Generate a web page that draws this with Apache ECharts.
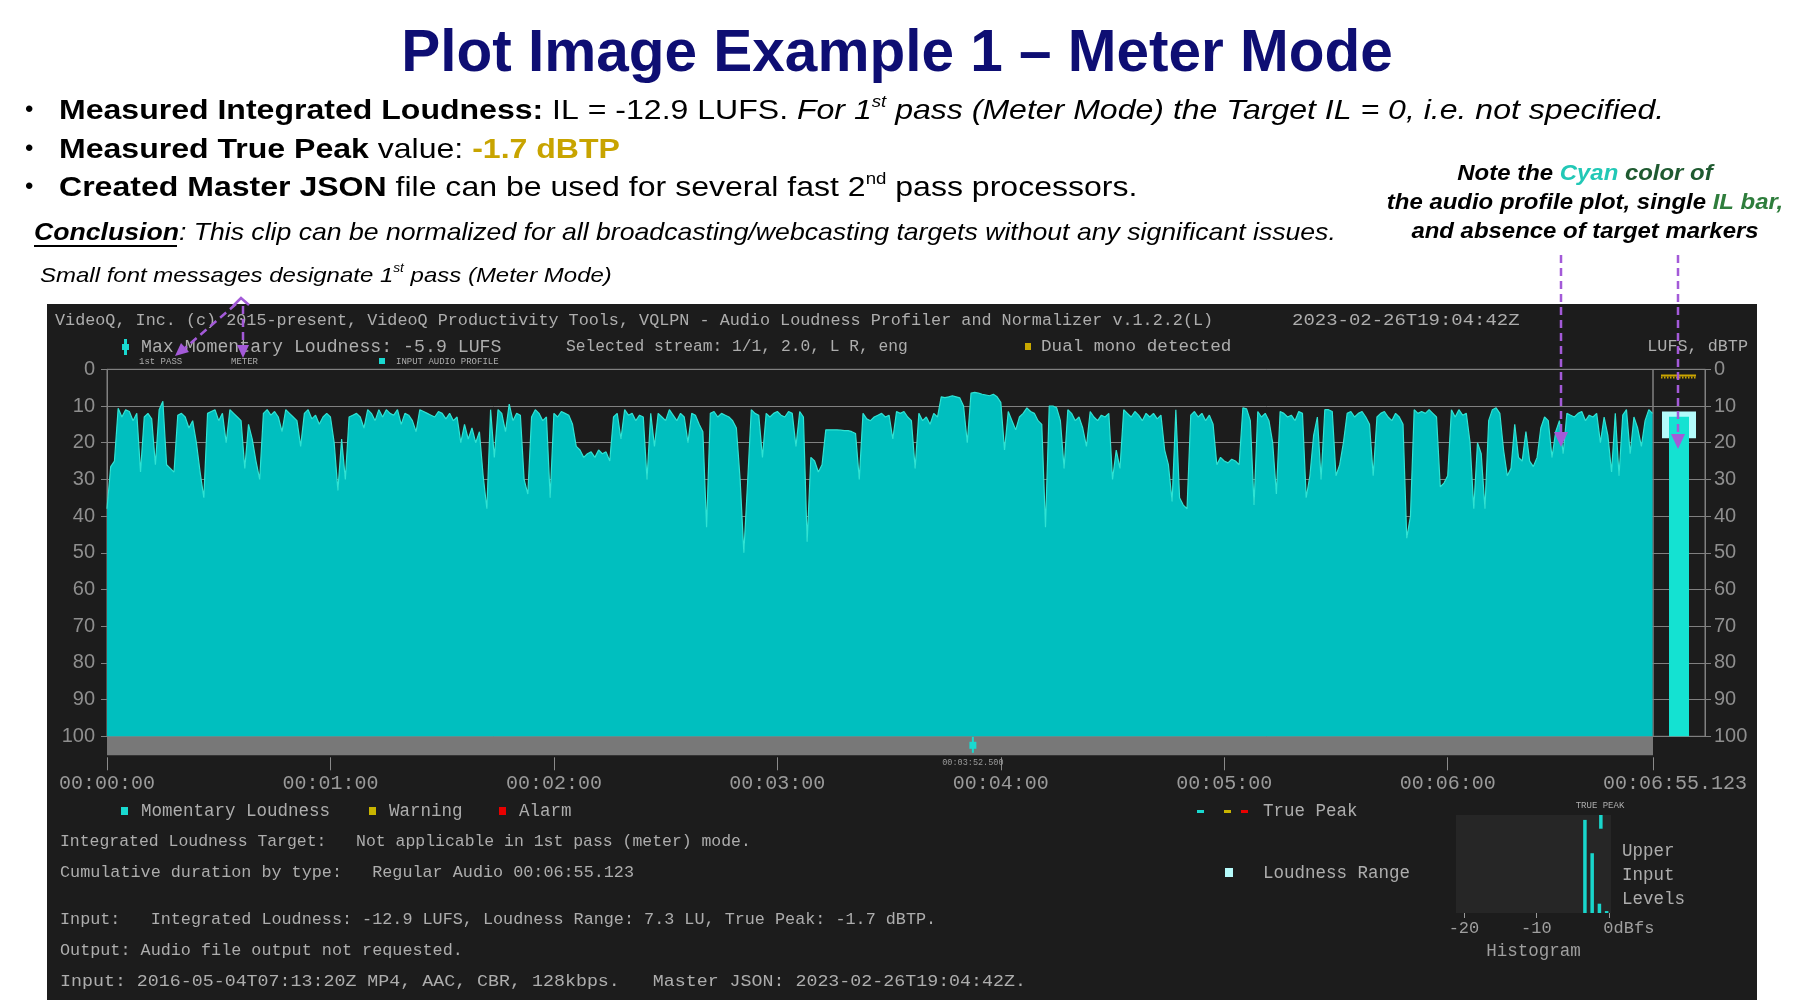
<!DOCTYPE html>
<html><head><meta charset="utf-8">
<script src="https://cdn.jsdelivr.net/npm/echarts@6/dist/echarts.min.js"></script>
<style>html,body{margin:0;padding:0;background:#fff}#c{width:1800px;height:1000px}</style>
</head><body><div id="c"></div>
<script>
// ---------------- DATA ----------------
const DURATION = 415.123;          // seconds
const STEP = 1;                    // seconds between momentary loudness samples
// momentary loudness, magnitude of LUFS (10 => -10 LUFS), one value per second
const loudness = [
 38,26.5,25,10.6,13,11,11.5,14,12,28,
 13,12,13.5,26,11,8.7,26,27,28,12.5,
 12,13,16,14,20,28,35,12,11.5,11,
 14,12,20,11,12,13,14,27,15,19,
 25,30,12,11,12.5,11.5,13,17,11,12,
 13,14,21,12,11,13.5,12.5,15,13,12,
 13,20,33,19,30,13,12.5,12,13,16,
 11,12,14,11,13,11,12,12.5,11,15,
 12,12.5,14,17,11,11.5,12,12.5,13,11.5,
 12,13.5,12,14,13,20,15,19,16,20,
 17,29,38,11,24,11,12,17,9.5,14,
 12,12.5,30,34,13,11,12,14,13,35,
 12,13,11.5,12,12.5,15,21,22,24,23,
 22.5,24,22,23,22.5,25,13,12,19,11,
 12.5,12,14,12.5,13,30,12,21,12,13,
 14,11,12.5,14,12,13,20,12,12.5,15,
 17,43,12,11.5,13,12,12.5,13,14,16,
 30,50,31,11,12,12.5,24,12,13,12,
 11.5,12.5,13,11.5,12,21,11.5,13,47,24,
 25,28,26,16.5,16.5,16.5,16.5,16.6,16.7,16.7,
 17,17.5,30,12,13.5,14,13,12.5,12,13,
 12.5,19,11.5,12,11.5,13,14,27,12,14,
 13,15,12,13,7.5,7.7,7.5,7.2,7.5,7.8,
 10,20,6.5,6.3,6.5,6.8,7,7.2,6.8,7.5,
 9,22,11.5,14,16.5,13,12,10.5,11.5,12,
 14,15,43,10,10,10.5,14,27,11,12,
 14,13,16,21,11.5,13,14,12.5,13,12,
 30,22,27,11,12,13,11.5,12.5,14,12,
 13,12,13.5,12.5,22,26,36,11,35,37,
 38,12.5,11.5,13,12,14,12.5,15,26,24,
 25,25.5,24.5,25,26,10.5,10.8,14,37,11.5,
 13,12,14,20,34,11.5,12,13,12.5,14,
 11.5,12,35,29,18,13,30,11,11,11.5,
 29,26,20,12,11.5,13,12,11.5,13,15,
 29,13,12,11.5,13,14,12,13,15,46,
 40,11,12,11.5,12,11,12,13,32,31,
 29,11,13,11,12.5,12,20,38,20,23,
 38,14,11,10.5,12,22,29,27,15,24,
 25,17,25,26.5,24,16,13,14,24,17,
 14,23,12,12.5,13,12,11.5,14,12.5,13,
 12,20,13,18,28,12,29,12.5,11,23,
 13,16,21,14,11,12
];
const yTicks = [0,10,20,30,40,50,60,70,80,90,100];
const TIME_TICK = 60;                 // one label per minute
const integratedLoudness = 12.9;      // -12.9 LUFS
const lraLow = 11.5, lraHigh = 18.8;  // loudness range 7.3 LU
const truePeak = 1.7;                 // -1.7 dBTP
const maxMomentTime = 232.5;          // 00:03:52.500
const histBins = [-3.3, -2.3, -1.3, -0.3];   // dBFS
const histCounts = [95, 61, 9.5, 2];         // % of histogram height
const histTicks = [-20, -10, 0];
const histTruePeak = -1.1;
const histTruePeakSpan = [86, 100];

// ---------------- HELPERS ----------------
const pad = n => String(n).padStart(2,'0');
function fmtTime(v){
  const ms = Math.round(v*1000);
  const h = Math.floor(ms/3600000), m = Math.floor(ms/60000)%60, s = Math.floor(ms/1000)%60, f = ms%1000;
  let str = pad(h)+':'+pad(m)+':'+pad(s);
  if (f) str += '.'+String(f).padStart(3,'0');
  return str;
}
const MONO = 'Liberation Mono';
const SANS = 'Liberation Sans';
const PTXT = '#adadad';
const GRID_C = '#808080';

function txt(x, y, text, opt){
  opt = opt || {};
  return {type:'text', x:x, y:y, scaleX: opt.sx || 1, z: opt.z || 50, silent:true,
    style: Object.assign({text:text, fill: opt.fill || PTXT,
      font: opt.font || ('16.8px '+MONO), align: opt.align || 'left', verticalAlign:'middle',
      textAlign: opt.align || 'left', textVerticalAlign:'middle'}, opt.style || {})};
}
function rect(x,y,w,h,fill,z){ return {type:'rect', z: z||50, silent:true, shape:{x:x,y:y,width:w,height:h}, style:{fill:fill}}; }
const PURPLE = '#a35ad8';
function dline(x1,y1,x2,y2){ return {type:'line', z:200, silent:true, shape:{x1:x1,y1:y1,x2:x2,y2:y2}, style:{stroke:PURPLE, lineWidth:2.5, lineDash:[8,5]}}; }
function head(pts){ return {type:'polygon', z:200, silent:true, shape:{points:pts}, style:{fill:PURPLE}}; }

// ---------------- GRAPHICS (text / annotations) ----------------
const g = [];
g.push(rect(47, 304, 1710, 696, '#1c1c1c', -10));
// title
g.push(txt(897, 54.5, 'Plot Image Example 1 – Meter Mode', {fill:'#0e0e73', align:'center', font:'bold 58.5px '+SANS}));
// bullets
const BF = 27.5, BSX = 1.165;
const rich = {
  b:{fontFamily:SANS, fontWeight:'bold', fontSize:BF, fill:'#000', lineHeight:34, verticalAlign:'bottom'},
  r:{fontFamily:SANS, fontSize:BF, fill:'#000', lineHeight:34, verticalAlign:'bottom'},
  i:{fontFamily:SANS, fontStyle:'italic', fontSize:BF, fill:'#000', lineHeight:34, verticalAlign:'bottom'},
  gold:{fontFamily:SANS, fontWeight:'bold', fontSize:BF, fill:'#c8a400', lineHeight:34, verticalAlign:'bottom'},
  sup:{fontFamily:SANS, fontSize:16, fill:'#000', lineHeight:34, verticalAlign:'top', padding:[4,0,0,0]},
  isup:{fontFamily:SANS, fontStyle:'italic', fontSize:16, fill:'#000', lineHeight:34, verticalAlign:'top', padding:[4,0,0,0]}
};
[108,147,185].forEach(y => g.push(txt(25, y+2, '•', {fill:'#000', font:'24px '+SANS})));
g.push(txt(59, 108, '', {sx:BSX, style:{rich:rich, text:'{b|Measured Integrated Loudness:}{r| IL = -12.9 LUFS. }{i|For 1}{isup|st}{i| pass (Meter Mode) the Target IL = 0, i.e. not specified.}'}}));
g.push(txt(59, 147, '', {sx:BSX, style:{rich:rich, text:'{b|Measured True Peak}{r| value: }{gold|-1.7 dBTP}'}}));
g.push(txt(59, 185, '', {sx:BSX, style:{rich:rich, text:'{b|Created Master JSON}{r| file can be used for several fast 2}{sup|nd}{r| pass processors.}'}}));
// conclusion
g.push(txt(34, 233, '', {sx:1.109, style:{rich:{
  c:{fontFamily:SANS, fontWeight:'bold', fontStyle:'italic', fontSize:24, fill:'#000'},
  t:{fontFamily:SANS, fontStyle:'italic', fontSize:24, fill:'#000'}},
  text:'{c|Conclusion}{t|: This clip can be normalized for all broadcasting/webcasting targets without any significant issues.}'}}));
g.push({type:'line', z:50, silent:true, shape:{x1:34,y1:246,x2:177,y2:246}, style:{stroke:'#000', lineWidth:2}});
g.push(txt(40, 274, '', {sx:1.142, style:{rich:{
  t:{fontFamily:SANS, fontStyle:'italic', fontSize:21, fill:'#000', lineHeight:26, verticalAlign:'bottom'},
  s:{fontFamily:SANS, fontStyle:'italic', fontSize:12, fill:'#000', lineHeight:26, verticalAlign:'top', padding:[2,0,0,0]}},
  text:'{t|Small font messages designate 1}{s|st}{t| pass (Meter Mode)}'}}));
// note (right)
const nr = {
  k:{fontFamily:SANS, fontWeight:'bold', fontStyle:'italic', fontSize:22, fill:'#000'},
  c:{fontFamily:SANS, fontWeight:'bold', fontStyle:'italic', fontSize:22, fill:'#22c8b6'},
  gr:{fontFamily:SANS, fontWeight:'bold', fontStyle:'italic', fontSize:22, fill:'#1f5a30'},
  gl:{fontFamily:SANS, fontWeight:'bold', fontStyle:'italic', fontSize:22, fill:'#2e7d3c'}
};
g.push(txt(1585, 174, '', {align:'center', sx:1.088, style:{rich:nr, text:'{k|Note the }{c|Cyan}{gr| color of}'}}));
g.push(txt(1585, 203, '', {align:'center', sx:1.088, style:{rich:nr, text:'{k|the audio profile plot, single }{gl|IL bar,}'}}));
g.push(txt(1585, 232, '', {align:'center', sx:1.088, style:{rich:nr, text:'{k|and absence of target markers}'}}));

// panel header texts
g.push(txt(55, 321, 'VideoQ, Inc. (c) 2015-present, VideoQ Productivity Tools, VQLPN - Audio Loudness Profiler and Normalizer v.1.2.2(L)'));
g.push(txt(1292, 321, '2023-02-26T19:04:42Z', {sx:1.13}));
g.push(rect(124, 339, 3, 16, '#19d9d0'));
g.push(rect(122, 344, 7, 6, '#19d9d0'));
g.push(txt(141, 347, 'Max Momentary Loudness: -5.9 LUFS', {font:'17.5px '+MONO, sx:1.04}));
g.push(txt(566, 347, 'Selected stream: 1/1, 2.0, L R, eng', {sx:0.97}));
g.push(rect(1025, 343, 6, 7, '#c8a800'));
g.push(txt(1041, 347, 'Dual mono detected', {sx:1.05}));
g.push(txt(1748, 347, 'LUFS, dBTP', {align:'right'}));
g.push(txt(139, 362, '1st PASS', {font:'9px '+MONO}));
g.push(txt(231, 362, 'METER', {font:'9px '+MONO}));
g.push(rect(379, 358, 6, 6, '#19d9d0'));
g.push(txt(396, 362, 'INPUT AUDIO PROFILE', {font:'9px '+MONO}));

// legend row
g.push(rect(121, 807, 7, 8, '#19d9d0'));
g.push(txt(141, 811, 'Momentary Loudness', {font:'17.5px '+MONO}));
g.push(rect(369, 807, 7, 8, '#c8b400'));
g.push(txt(389, 811, 'Warning', {font:'17.5px '+MONO}));
g.push(rect(499, 807, 7, 8, '#e80000'));
g.push(txt(519, 811, 'Alarm', {font:'17.5px '+MONO}));
g.push(rect(1197, 810, 7, 3, '#19d9d0'));
g.push(rect(1224, 810, 7, 3, '#c8b400'));
g.push(rect(1241, 810, 7, 3, '#e80000'));
g.push(txt(1263, 811, 'True Peak', {font:'17.5px '+MONO}));
g.push(txt(60, 842, 'Integrated Loudness Target:   Not applicable in 1st pass (meter) mode.', {sx:0.98}));
g.push(txt(60, 873, 'Cumulative duration by type:   Regular Audio 00:06:55.123'));
g.push(rect(1225, 868, 8, 9, '#b6fbfb'));
g.push(txt(1263, 873, 'Loudness Range', {font:'17.5px '+MONO}));
g.push(txt(60, 920, 'Input:   Integrated Loudness: -12.9 LUFS, Loudness Range: 7.3 LU, True Peak: -1.7 dBTP.'));
g.push(txt(60, 951, 'Output: Audio file output not requested.'));
g.push(txt(60, 982, 'Input: 2016-05-04T07:13:20Z MP4, AAC, CBR, 128kbps.   Master JSON: 2023-02-26T19:04:42Z.', {sx:1.09}));
g.push(txt(1600, 806, 'TRUE PEAK', {font:'9px '+MONO, align:'center'}));
g.push(txt(1622, 851, 'Upper', {font:'17.5px '+MONO}));
g.push(txt(1622, 875, 'Input', {font:'17.5px '+MONO}));
g.push(txt(1622, 899, 'Levels', {font:'17.5px '+MONO}));

// purple annotation arrows
g.push(dline(1561, 255, 1561, 433)); g.push(head([[1554,432],[1568,432],[1561,447]]));
g.push(dline(1678, 255, 1678, 435)); g.push(head([[1671,434],[1685,434],[1678,449]]));
g.push(dline(243, 306, 243, 346)); g.push(head([[237,345],[249,345],[243,358]]));
g.push(dline(236, 304, 185, 348)); g.push(head([[189,352],[181,343],[175,356]]));
g.push({type:'polyline', z:200, silent:true, shape:{points:[[233,306],[241,298],[249,305]]}, style:{stroke:PURPLE, lineWidth:2.5, fill:null}});

// ---------------- CHART ----------------
const PLOT_L = 107, PLOT_T = 369.3, PLOT_W = 1546, PLOT_H = 367, IL_W = 52;
const yAxisCommon = {
  type:'value', min:0, max:100, interval:10, inverse:true,
  axisLine:{show:true, onZero:false, lineStyle:{color:GRID_C}},
  axisTick:{show:true, length:6, lineStyle:{color:GRID_C}},
  splitLine:{show:true, lineStyle:{color:GRID_C, width:1}},
  axisLabel:{color:'#8e8e8e', fontFamily:SANS, fontSize:20}
};
const option = {
  animation:false,
  backgroundColor:'#ffffff',
  graphic:{elements:g},
  grid:[
    {left:PLOT_L, top:PLOT_T, width:PLOT_W, height:PLOT_H, show:true, borderColor:GRID_C, borderWidth:1, backgroundColor:'transparent', outerBoundsMode:'none'},
    {left:PLOT_L, top:PLOT_T+PLOT_H, width:PLOT_W, height:19, show:true, borderWidth:0, backgroundColor:'#787878', outerBoundsMode:'none'},
    {left:PLOT_L+PLOT_W, top:PLOT_T, width:IL_W, height:PLOT_H, show:true, borderColor:GRID_C, borderWidth:1, backgroundColor:'transparent', outerBoundsMode:'none'},
    {left:1456, top:815, width:155, height:98, show:true, borderWidth:0, backgroundColor:'#262626', outerBoundsMode:'none'}
  ],
  xAxis:[
    {gridIndex:0, type:'value', min:0, max:DURATION, interval:TIME_TICK, offset:21, position:'bottom',
      axisLine:{show:false, onZero:false}, splitLine:{show:false},
      axisTick:{show:true, length:13, lineStyle:{color:'#8a8a8a'}},
      axisLabel:{show:true, showMinLabel:true, showMaxLabel:true, color:'#9a9a9a', fontFamily:MONO, fontSize:20, margin:16,
        formatter: v => v >= DURATION - 1e-6 ? '{last|'+fmtTime(v)+'}' : fmtTime(v),
        rich:{last:{color:'#9a9a9a', fontFamily:MONO, fontSize:20, padding:[0,0,0,44]}}}},
    {gridIndex:1, type:'value', min:0, max:DURATION, show:false},
    {gridIndex:2, type:'category', data:['IL'], show:false},
    {gridIndex:3, type:'value', min:-21.1, max:0.3,
      axisLine:{show:false, onZero:false}, splitLine:{show:false},
      axisTick:{show:true, length:5, customValues:histTicks, lineStyle:{color:'#9a9a9a'}},
      axisLabel:{show:true, customValues:histTicks, color:'#9f9f9f', fontFamily:MONO, fontSize:17, margin:7,
        formatter: v => v === 0 ? '{z|0dBfs}' : String(v),
        rich:{z:{color:'#9f9f9f', fontFamily:MONO, fontSize:17, padding:[0,0,0,40]}}},
      name:'Histogram', nameLocation:'middle', nameGap:29,
      nameTextStyle:{color:'#9f9f9f', fontFamily:MONO, fontSize:17.5}}
  ],
  yAxis:[
    Object.assign({gridIndex:0, position:'left'}, yAxisCommon, {axisLabel:Object.assign({}, yAxisCommon.axisLabel, {margin:12})}),
    {gridIndex:1, type:'value', min:0, max:1, show:false},
    Object.assign({gridIndex:2, position:'right'}, yAxisCommon, {axisLabel:Object.assign({}, yAxisCommon.axisLabel, {margin:9})}),
    {gridIndex:3, type:'value', min:0, max:100, show:false}
  ],
  series:[
    {type:'line', xAxisIndex:0, yAxisIndex:0, data: loudness.map((v,i)=>[i*STEP, v]),
      showSymbol:false, sampling:false, lineStyle:{color:'#2fe3d4', width:1.2},
      areaStyle:{color:'#00bfbf', opacity:1, origin:'end'}, z:3},
    {type:'custom', xAxisIndex:1, yAxisIndex:1, data:[[maxMomentTime, 0.5]],
      renderItem:(p, api) => {
        const c = api.coord([api.value(0), api.value(1)]);
        return {type:'group', children:[
          {type:'rect', shape:{x:c[0]-1, y:c[1]-9, width:2, height:16}, style:{fill:'#19d9d0'}},
          {type:'rect', shape:{x:c[0]-3.5, y:c[1]-4, width:7, height:7}, style:{fill:'#19d9d0'}},
          {type:'text', x:c[0], y:c[1]+17, style:{text:fmtTime(api.value(0)), fill:'#9a9a9a', font:'8.5px '+MONO, align:'center', verticalAlign:'middle'}}
        ]};
      }},
    {type:'custom', xAxisIndex:2, yAxisIndex:2, z:5,
      data:[[0, integratedLoudness, lraLow, lraHigh, truePeak]],
      renderItem:(p, api) => {
        const x = api.coord([0, 0])[0];
        const yIL = api.coord([0, api.value(1)])[1];
        const yB = api.coord([0, 100])[1];
        const yL1 = api.coord([0, api.value(2)])[1];
        const yL2 = api.coord([0, api.value(3)])[1];
        const yTP = api.coord([0, api.value(4)])[1];
        return {type:'group', children:[
          {type:'rect', shape:{x:x-17, y:yL1, width:34, height:yL2-yL1}, style:{fill:'#b3fbfb'}},
          {type:'rect', shape:{x:x-10, y:yIL, width:20, height:yB-yIL}, style:{fill:'#14e2d2'}},
          {type:'line', shape:{x1:x-18, y1:yTP, x2:x+17, y2:yTP}, style:{stroke:'#c9a400', lineWidth:2}},
          {type:'line', shape:{x1:x-18, y1:yTP+2, x2:x+17, y2:yTP+2}, style:{stroke:'#c9a400', lineWidth:2, lineDash:[1.5,1.5]}}
        ]};
      }},
    {type:'bar', xAxisIndex:3, yAxisIndex:3, barWidth:3.5, data: histBins.map((b,i)=>[b, histCounts[i]]),
      itemStyle:{color:'#19d6cc'}},
    {type:'custom', xAxisIndex:3, yAxisIndex:3, data:[[histTruePeak, histTruePeakSpan[0], histTruePeakSpan[1]]],
      renderItem:(p, api) => {
        const a = api.coord([api.value(0), api.value(2)]);
        const b = api.coord([api.value(0), api.value(1)]);
        return {type:'rect', shape:{x:a[0]-1.75, y:a[1], width:3.5, height:b[1]-a[1]}, style:{fill:'#19d6cc'}};
      }}
  ]
};
const chart = echarts.init(document.getElementById('c'), null, {renderer:'canvas', width:1800, height:1000});
chart.setOption(option);
</script>
</body></html>
